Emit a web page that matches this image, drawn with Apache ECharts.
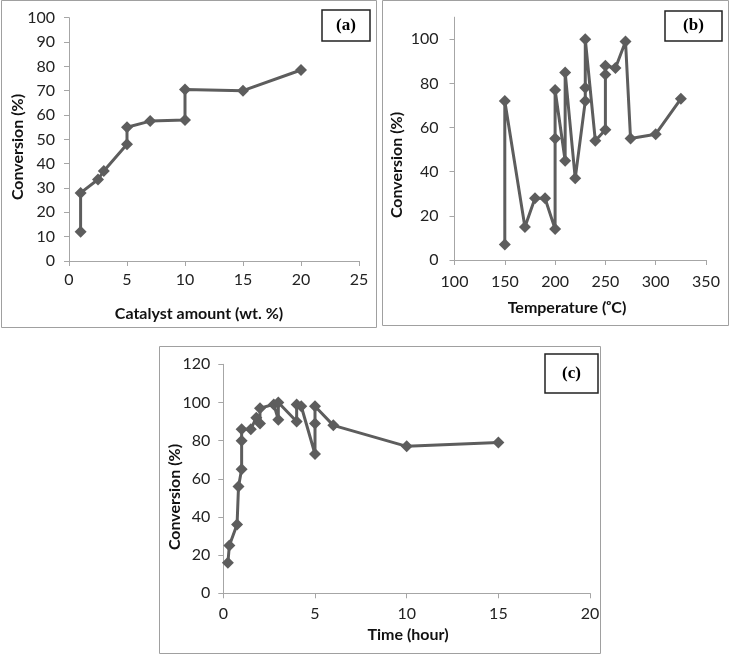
<!DOCTYPE html>
<html><head><meta charset="utf-8">
<script src="https://cdn.jsdelivr.net/npm/echarts@6/dist/echarts.min.js"></script>
<style>html,body{margin:0;padding:0;background:#fff}#c{width:731px;height:656px}</style>
</head><body><div id="c"></div><script>
// Panel (a): catalyst amount
const catalystAmount = [1, 1, 2.5, 3, 5, 5, 7, 10, 10, 15, 20];
const catalystConv   = [12, 28, 33.5, 37, 48, 55, 57.5, 58, 70.5, 70, 78.5];
// Panel (b): temperature
const temperature = [150,150,170,180,190,200,200,200,210,210,220,230,230,230,240,250,250,250,260,270,275,300,325];
const tempConv    = [7,72,15,28,28,14,55,77,45,85,37,72,78,100,54,59,84,88,87,99,55,57,73];
// Panel (c): time
const timeHours = [0.25,0.33,0.75,0.83,1,1,1,1.5,1.8,2,2,2.75,3,3,4,4,4.25,5,5,5,6,10,15];
const timeConv  = [16,25,36,56,65,80,86,86,92,89,97,99,91,100,90,99,98,73,89,98,88,77,79];
// tick values for panel (b) y axis
const tempYTicks = [0,20,40,60,80,100];

const zip = (a,b) => a.map((v,i)=>[v,b[i]]);
const AX = '#a6a6a6', LINE = '#5d5d5d', FONT = 'Lato';

function axis(grid, min, max, interval, margin, custom) {
  const o = {
    type:'value', gridIndex:grid, min, max, interval,
    axisLine:{show:true, onZero:false, lineStyle:{color:AX, width:1}},
    axisTick:{show:true, inside:false, length:5, lineStyle:{color:AX, width:1}},
    splitLine:{show:false},
    axisLabel:{color:'#222', fontFamily:FONT, fontSize:16, margin}
  };
  if (custom) { o.axisLabel.customValues = custom; o.axisTick.customValues = custom; }
  return o;
}
function series(i, xs, ys) {
  return {type:'line', xAxisIndex:i, yAxisIndex:i, data:zip(xs,ys),
    symbol:'diamond', symbolSize:12, showSymbol:true,
    lineStyle:{color:LINE, width:3}, itemStyle:{color:LINE}, z:3};
}
function title(txt, x, y, rot) {
  return {type:'text', x, y, rotation:rot||0, z:10,
    style:{text:txt, font:'bold 16px Lato', fill:'#111', align:'center', verticalAlign:'middle'}};
}
function box(x,y,w,h,stroke,lw){
  return {type:'rect', shape:{x,y,width:w,height:h}, z:0,
    style:{fill:'none', stroke, lineWidth:lw}};
}
function tag(txt,x,y,w,h){
  return [box(x,y,w,h,'#222',1.5),
    {type:'text', x:x+w/2, y:y+h/2, z:10,
     style:{text:txt, font:'bold 17px "Liberation Serif"', fill:'#000', align:'center', verticalAlign:'middle'}}];
}

const chart = echarts.init(document.getElementById('c'), null, {renderer:'canvas'});
chart.setOption({
  animation:false,
  backgroundColor:'#fff',
  grid:[
    {left:69, top:17.7, width:290, height:243.3},
    {left:454.5, top:17.2, width:251.5, height:242.8},
    {left:223.3, top:364.3, width:366.8, height:229}
  ],
  xAxis:[ axis(0,0,25,5,11), axis(1,100,350,50,14), axis(2,0,20,5,13) ],
  yAxis:[ axis(0,0,100,10,14), axis(1,0,110,20,16,tempYTicks), axis(2,0,120,20,13) ],
  series:[ series(0,catalystAmount,catalystConv), series(1,temperature,tempConv), series(2,timeHours,timeConv) ],
  graphic:[
    box(1.5,0.5,375,327,'#a0a0a0',1),
    box(382.5,0.5,346,325,'#a0a0a0',1),
    box(159.5,346.5,441,307,'#a0a0a0',1),
    ...tag('(a)',322,10,48,31),
    ...tag('(b)',665,11,57,30),
    ...tag('(c)',545,354,53,39),
    title('Catalyst amount (wt. %)',199,314),
    title('Conversion (%)',18,147,Math.PI/2),
    title('Temperature (ᵒC)',567,308),
    title('Conversion (%)',397,165,Math.PI/2),
    title('Time (hour)',408,635),
    title('Conversion (%)',175,497,Math.PI/2)
  ]
});
</script></body></html>
